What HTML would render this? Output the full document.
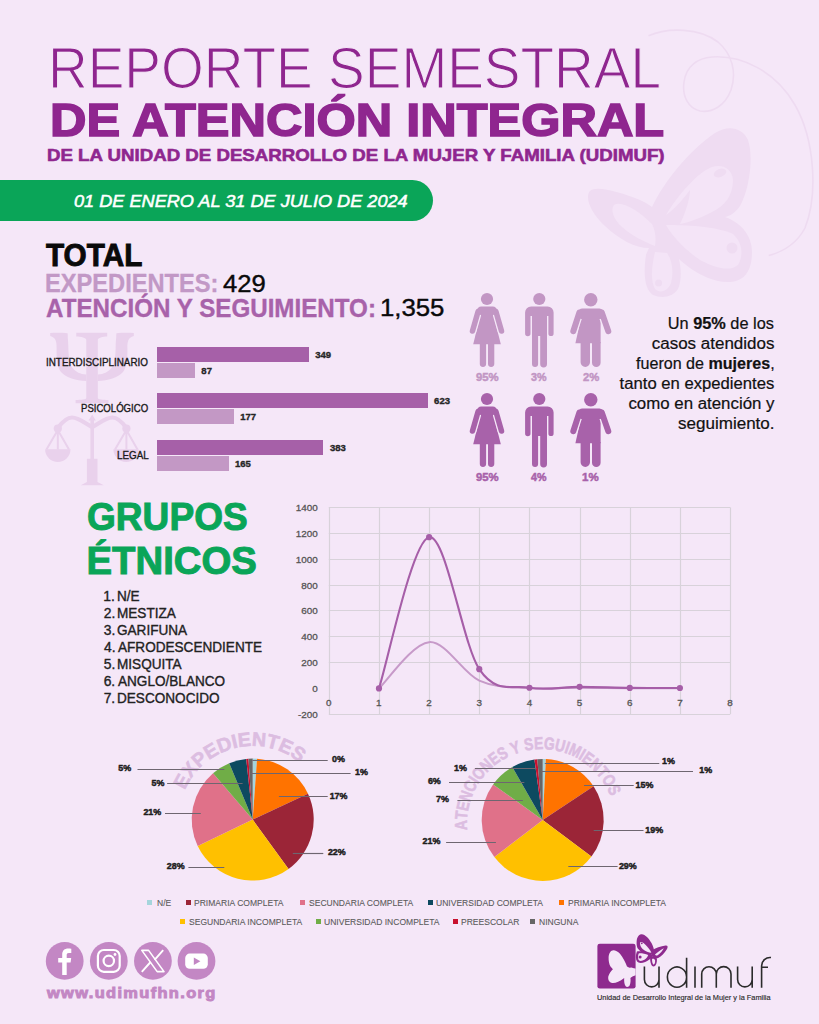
<!DOCTYPE html>
<html><head><meta charset="utf-8"><style>
html,body{margin:0;padding:0}
body{width:819px;height:1024px;position:relative;overflow:hidden;background:#f5e7f8;font-family:"Liberation Sans",sans-serif}
.t{position:absolute;white-space:nowrap}
svg{position:absolute;left:0;top:0}
</style></head><body>
<svg width="819" height="1024" viewBox="0 0 819 1024">
<g fill="#e9d1ec">
<path d="M76.3,332.8 H107.2 L107.2,336.4 C103,336.6 97.8,337.5 97.8,340 V398 C97.8,399.6 103,399.8 108.5,400 V403.3 H75.6 V400 C81,399.8 86.3,399.6 86.3,398 V340 C86.3,337.5 81,336.6 76.3,336.4 Z"/>
<path d="M50.2,333 C56,332.8 62,332.8 67.6,333.2 L67.8,336 C67.6,338 68.2,340 68.3,346 C68.5,357 69.5,365 73,368.5 C76,372 80,374 86.3,374.6 V381 C76,380.5 66,378 61,372 C57,367 56.4,358 56.6,348 C56.7,342 56,337.5 50.2,336 Z"/>
<path d="M133.8,333 C128,332.8 122,332.8 116.4,333.2 L116.2,336 C116.4,338 115.8,340 115.7,346 C115.5,357 114.5,365 111,368.5 C108,372 104,374 97.8,374.6 V381 C108,380.5 118,378 123,372 C127,367 127.6,358 127.4,348 C127.3,342 128,337.5 133.8,336 Z"/>
<path d="M92.2,414.5 L95.8,420.5 H94 V458.7 H97.5 V482 L103.8,485.3 H80.8 L86.9,482 V458.7 H90.4 V420.5 H88.6 Z"/>
<path d="M45.1,449.2 A12.7,12.7 0 0 0 70.5,449.2 Z"/>
<path d="M113.4,449.2 A12.7,12.7 0 0 0 138.8,449.2 Z"/>
<circle cx="57.8" cy="428.6" r="4.1"/>
<circle cx="126.4" cy="428.6" r="4.1"/>
</g>
<g fill="none" stroke="#e9d1ec">
<path d="M57.8,428 C63,421 67,417.5 72,417.5 C79,417.5 86,424 92.2,427 C98.4,424 105.4,417.5 112.4,417.5 C117.4,417.5 121.4,421 126.4,428" stroke-width="4.2"/>
<path d="M57.8,430 L46.5,449.5 M57.8,430 L69,449.5 M57.8,430 V449.5 M126.4,430 L115,449.5 M126.4,430 L137.5,449.5 M126.4,430 V449.5" stroke-width="2"/>
</g>
<g fill="none" stroke="#eedbf1" stroke-width="1.6">
<path d="M648.5,35.8 C668,27 700,28 718,42 C732,54 737,72 731,90 C725,106 712,113 700,111 C688,108 682,96 684,82 C686,66 698,58 712,57 C740,55 775,70 795,105 C815,140 818,195 805,228 C796,245 782,252 768.7,255.6"/>
</g>
<g fill="#efdcf2">
<path d="M652,207 C665,180 690,150 715,133 C728,125 742,127 748,140 C754,158 749,190 740,206 C735,213 730,216 725,217 C740,222 752,235 752,252 C752,270 745,281 730,282 C715,283 700,275 690,268 C686,265 682,262 679,259 C681,268 682,280 678,289 C673,297 662,299 653,295 C645,290 643,275 646,255 C647,252 648,250 649,248 C635,248 620,240 605,226 C592,214 584,198 590,191 C596,185 620,192 640,200 C645,202 649,205 652,207 Z"/>
</g>
<g fill="#f4e4f7">
<path d="M666,215 C678,195 698,172 712,167 C722,164 732,168 733,180 C733,195 725,206 712,212 C700,218 690,222 680,224 C686,212 690,198 690,190 C684,198 676,208 666,215 Z"/>
<path d="M614,205 C622,200 640,212 652,224 C656,232 656,240 655,246 C645,242 632,236 622,227 C614,220 610,210 614,205 Z"/>
<path d="M666,225 C685,225 715,226 733,234 C742,242 744,255 738,265 C730,272 715,268 700,260 C685,250 672,236 666,225 Z"/>
<path d="M655,252 C652,265 650,280 655,289 C660,294 668,291 671,283 C674,272 672,260 667,253 Z"/>
</g>
<g fill="#efdcf2"><ellipse cx="720" cy="173" rx="6.5" ry="4" transform="rotate(-20 720 173)"/><circle cx="732" cy="248" r="5.5"/><circle cx="658.6" cy="283" r="3.5"/></g>
</svg>
<div class="t" style="left:47.89px;top:39.79px;font-size:57.414px;line-height:57.414px;font-weight:400;font-style:normal;color:#8f268f;transform:scaleX(0.9577);transform-origin:0 0;-webkit-text-stroke:1.2px #f5e7f8;">REPORTE SEMESTRAL</div>
<div class="t" style="left:49.62px;top:97.00px;font-size:46.658px;line-height:46.658px;font-weight:700;font-style:normal;color:#8f268f;transform:scaleX(1.0824);transform-origin:0 0;-webkit-text-stroke:1.6px #8f268f;">DE ATENCIÓN INTEGRAL</div>
<div class="t" style="left:46.85px;top:146.78px;font-size:17.151px;line-height:17.151px;font-weight:700;font-style:normal;color:#8f268f;transform:scaleX(1.0893);transform-origin:0 0;-webkit-text-stroke:0.6px #8f268f;">DE LA UNIDAD DE DESARROLLO DE LA MUJER Y FAMILIA (UDIMUF)</div>
<div style="position:absolute;left:-30px;top:180px;width:463px;height:41px;background:#0aa558;border-radius:20.5px"></div>
<div class="t" style="left:74.46px;top:192.97px;font-size:16.279px;line-height:16.279px;font-weight:400;font-style:italic;color:#fff;transform:scaleX(1.1150);transform-origin:0 0;-webkit-text-stroke:0.5px #fff;">01 DE ENERO AL 31 DE JULIO DE 2024</div>
<div class="t" style="left:45.52px;top:239.58px;font-size:30.669px;line-height:30.669px;font-weight:700;font-style:normal;color:#0a0a0a;transform:scaleX(0.9695);transform-origin:0 0;-webkit-text-stroke:0.9px #0a0a0a;">TOTAL</div>
<div class="t" style="left:44.59px;top:270.43px;font-size:26.091px;line-height:26.091px;font-weight:700;font-style:normal;color:#c298c6;transform:scaleX(0.9065);transform-origin:0 0;-webkit-text-stroke:0.35px #c298c6;">EXPEDIENTES:</div>
<div class="t" style="left:223.21px;top:271.78px;font-size:24.710px;line-height:24.710px;font-weight:400;font-style:normal;color:#0a0a0a;transform:scaleX(1.0385);transform-origin:0 0;-webkit-text-stroke:0.4px #0a0a0a;">429</div>
<div class="t" style="left:45.57px;top:296.40px;font-size:25.655px;line-height:25.655px;font-weight:700;font-style:normal;color:#a862aa;transform:scaleX(0.9428);transform-origin:0 0;-webkit-text-stroke:0.35px #a862aa;">ATENCIÓN Y SEGUIMIENTO:</div>
<div class="t" style="left:380.24px;top:296.28px;font-size:24.710px;line-height:24.710px;font-weight:400;font-style:normal;color:#0a0a0a;transform:scaleX(1.0425);transform-origin:0 0;-webkit-text-stroke:0.4px #0a0a0a;">1,355</div>
<div style="position:absolute;left:157.2px;top:346.7px;width:151.6px;height:15px;background:#a660a8"></div>
<div style="position:absolute;left:157.2px;top:362.6px;width:37.8px;height:15px;background:#c398c5"></div>
<div class="t" style="left:315.23px;top:349.76px;font-size:9.521px;line-height:9.521px;font-weight:700;font-style:normal;color:#262626;-webkit-text-stroke:0.35px #262626;">349</div>
<div class="t" style="left:201.36px;top:365.66px;font-size:9.521px;line-height:9.521px;font-weight:700;font-style:normal;color:#262626;-webkit-text-stroke:0.35px #262626;">87</div>
<div class="t" style="left:46.26px;top:356.86px;font-size:10.829px;line-height:10.829px;font-weight:400;font-style:normal;color:#1a1a1a;transform:scaleX(0.9127);transform-origin:0 0;-webkit-text-stroke:0.35px #1a1a1a;">INTERDISCIPLINARIO</div>
<div style="position:absolute;left:157.2px;top:393.3px;width:270.6px;height:15px;background:#a660a8"></div>
<div style="position:absolute;left:157.2px;top:409.2px;width:76.9px;height:15px;background:#c398c5"></div>
<div class="t" style="left:434.10px;top:396.36px;font-size:9.521px;line-height:9.521px;font-weight:700;font-style:normal;color:#262626;-webkit-text-stroke:0.35px #262626;">623</div>
<div class="t" style="left:240.15px;top:412.26px;font-size:9.521px;line-height:9.521px;font-weight:700;font-style:normal;color:#262626;-webkit-text-stroke:0.35px #262626;">177</div>
<div class="t" style="left:81.19px;top:403.46px;font-size:10.829px;line-height:10.829px;font-weight:400;font-style:normal;color:#1a1a1a;transform:scaleX(0.8864);transform-origin:0 0;-webkit-text-stroke:0.35px #1a1a1a;">PSICOLÓGICO</div>
<div style="position:absolute;left:157.2px;top:439.8px;width:166.3px;height:15px;background:#a660a8"></div>
<div style="position:absolute;left:157.2px;top:455.7px;width:71.7px;height:15px;background:#c398c5"></div>
<div class="t" style="left:329.99px;top:442.86px;font-size:9.521px;line-height:9.521px;font-weight:700;font-style:normal;color:#262626;-webkit-text-stroke:0.35px #262626;">383</div>
<div class="t" style="left:234.93px;top:458.76px;font-size:9.521px;line-height:9.521px;font-weight:700;font-style:normal;color:#262626;-webkit-text-stroke:0.35px #262626;">165</div>
<div class="t" style="left:116.57px;top:449.96px;font-size:10.829px;line-height:10.829px;font-weight:400;font-style:normal;color:#1a1a1a;transform:scaleX(0.9075);transform-origin:0 0;-webkit-text-stroke:0.35px #1a1a1a;">LEGAL</div>
<svg width="819" height="1024" viewBox="0 0 819 1024"><g transform="translate(0,-100)" fill="#c296c4" stroke="none"><path d="M481.6,410 L492.4,410 L500.8,444.2 L473.2,444.2 Z"/><path d="M478.1,411.5 L472.5,431 M495.9,411.5 L501.5,431" stroke="#f5e7f8" stroke-width="8.1" stroke-linecap="round" fill="none"/><path d="M478.1,411.5 L472.5,431 M495.9,411.5 L501.5,431" stroke="#c296c4" stroke-width="5.5" stroke-linecap="round" fill="none"/><rect x="477" y="406.4" width="20" height="8.5" rx="4.2"/><rect x="481" y="408" width="12" height="10"/><circle cx="487" cy="399" r="6.1"/><path d="M479.8,443 h6.3 v20.8 a3.15,3.15 0 0 1 -6.3,0 Z M488,443 h6.3 v20.8 a3.15,3.15 0 0 1 -6.3,0 Z"/></g><g transform="translate(0.0,-100)" fill="#c296c4" stroke="none"><circle cx="539.3" cy="399" r="6.1"/><path d="M525.1,436 V412.5 A6,6 0 0 1 531.1,406.5 H547.6 A6,6 0 0 1 553.6,412.5 V433.5 A2.6,2.6 0 0 1 548.4,433.5 V416 H547 V464 A3.4,3.4 0 0 1 540.2,464 V436 H538.1 V464 A3.05,3.05 0 0 1 532,464 V416 H530.5 V433.5 A2.7,2.7 0 0 1 525.1,433.5 Z"/></g><g transform="translate(0,-100)" fill="#c296c4" stroke="none"><path d="M582.8,410 L600.6,410 L600.6,443.3 L575.4,443.3 Z"/><path d="M579.4,412.5 L573.3,431.2 M601.8,412.5 L608.3,431.2" stroke="#f5e7f8" stroke-width="8.6" stroke-linecap="round" fill="none"/><path d="M579.4,412.5 L573.3,431.2 M601.8,412.5 L608.3,431.2" stroke="#c296c4" stroke-width="6" stroke-linecap="round" fill="none"/><path d="M577.2,416.5 L578.5,412 A4,4 0 0 1 582.3,408.4 H599.5 A4,4 0 0 1 603.2,411 L604.6,414.8 L600.6,419 H581 Z"/><circle cx="590.8" cy="399.8" r="6.7"/><path d="M580.6,442 h9.4 v20.3 a4.7,4.7 0 0 1 -9.4,0 Z M592,442 h8.6 v20.7 a4.3,4.3 0 0 1 -8.6,0 Z"/></g><g transform="translate(0,0)" fill="#a862aa" stroke="none"><path d="M481.6,410 L492.4,410 L500.8,444.2 L473.2,444.2 Z"/><path d="M478.1,411.5 L472.5,431 M495.9,411.5 L501.5,431" stroke="#f5e7f8" stroke-width="8.1" stroke-linecap="round" fill="none"/><path d="M478.1,411.5 L472.5,431 M495.9,411.5 L501.5,431" stroke="#a862aa" stroke-width="5.5" stroke-linecap="round" fill="none"/><rect x="477" y="406.4" width="20" height="8.5" rx="4.2"/><rect x="481" y="408" width="12" height="10"/><circle cx="487" cy="399" r="6.1"/><path d="M479.8,443 h6.3 v20.8 a3.15,3.15 0 0 1 -6.3,0 Z M488,443 h6.3 v20.8 a3.15,3.15 0 0 1 -6.3,0 Z"/></g><g transform="translate(0.0,0)" fill="#a862aa" stroke="none"><circle cx="539.3" cy="399" r="6.1"/><path d="M525.1,436 V412.5 A6,6 0 0 1 531.1,406.5 H547.6 A6,6 0 0 1 553.6,412.5 V433.5 A2.6,2.6 0 0 1 548.4,433.5 V416 H547 V464 A3.4,3.4 0 0 1 540.2,464 V436 H538.1 V464 A3.05,3.05 0 0 1 532,464 V416 H530.5 V433.5 A2.7,2.7 0 0 1 525.1,433.5 Z"/></g><g transform="translate(0,0)" fill="#a862aa" stroke="none"><path d="M582.8,410 L600.6,410 L600.6,443.3 L575.4,443.3 Z"/><path d="M579.4,412.5 L573.3,431.2 M601.8,412.5 L608.3,431.2" stroke="#f5e7f8" stroke-width="8.6" stroke-linecap="round" fill="none"/><path d="M579.4,412.5 L573.3,431.2 M601.8,412.5 L608.3,431.2" stroke="#a862aa" stroke-width="6" stroke-linecap="round" fill="none"/><path d="M577.2,416.5 L578.5,412 A4,4 0 0 1 582.3,408.4 H599.5 A4,4 0 0 1 603.2,411 L604.6,414.8 L600.6,419 H581 Z"/><circle cx="590.8" cy="399.8" r="6.7"/><path d="M580.6,442 h9.4 v20.3 a4.7,4.7 0 0 1 -9.4,0 Z M592,442 h8.6 v20.7 a4.3,4.3 0 0 1 -8.6,0 Z"/></g></svg>
<div class="t" style="left:475.76px;top:370.58px;font-size:11.773px;line-height:11.773px;font-weight:700;font-style:normal;color:#c296c4;transform:scaleX(0.9623);transform-origin:0 0;-webkit-text-stroke:0.5px #c296c4;">95%</div>
<div class="t" style="left:475.76px;top:470.58px;font-size:11.773px;line-height:11.773px;font-weight:700;font-style:normal;color:#a862aa;transform:scaleX(0.9623);transform-origin:0 0;-webkit-text-stroke:0.5px #a862aa;">95%</div>
<div class="t" style="left:531.40px;top:370.58px;font-size:11.773px;line-height:11.773px;font-weight:700;font-style:normal;color:#c296c4;transform:scaleX(0.9120);transform-origin:0 0;-webkit-text-stroke:0.5px #c296c4;">3%</div>
<div class="t" style="left:531.49px;top:470.58px;font-size:11.773px;line-height:11.773px;font-weight:700;font-style:normal;color:#a862aa;transform:scaleX(0.9070);transform-origin:0 0;-webkit-text-stroke:0.5px #a862aa;">4%</div>
<div class="t" style="left:582.76px;top:370.58px;font-size:11.773px;line-height:11.773px;font-weight:700;font-style:normal;color:#c296c4;transform:scaleX(0.9565);transform-origin:0 0;-webkit-text-stroke:0.5px #c296c4;">2%</div>
<div class="t" style="left:582.43px;top:470.58px;font-size:11.773px;line-height:11.773px;font-weight:700;font-style:normal;color:#a862aa;transform:scaleX(0.9765);transform-origin:0 0;-webkit-text-stroke:0.5px #a862aa;">1%</div>
<div class="t" style="right:44.90px;top:315.96px;font-size:15.989px;line-height:15.989px;color:#111;text-align:right;transform:scaleX(1.0214);transform-origin:100% 0;-webkit-text-stroke:0.2px #111">Un <b>95%</b> de los</div>
<div class="t" style="right:44.90px;top:336.06px;font-size:15.989px;line-height:15.989px;color:#111;text-align:right;transform:scaleX(1.0629);transform-origin:100% 0;-webkit-text-stroke:0.2px #111">casos atendidos</div>
<div class="t" style="right:44.90px;top:356.16px;font-size:15.989px;line-height:15.989px;color:#111;text-align:right;transform:scaleX(1.0068);transform-origin:100% 0;-webkit-text-stroke:0.2px #111">fueron de <b>mujeres</b>,</div>
<div class="t" style="right:44.90px;top:376.26px;font-size:15.989px;line-height:15.989px;color:#111;text-align:right;transform:scaleX(1.0432);transform-origin:100% 0;-webkit-text-stroke:0.2px #111">tanto en expedientes</div>
<div class="t" style="right:44.90px;top:396.36px;font-size:15.989px;line-height:15.989px;color:#111;text-align:right;transform:scaleX(1.0546);transform-origin:100% 0;-webkit-text-stroke:0.2px #111">como en atención y</div>
<div class="t" style="right:44.90px;top:416.46px;font-size:15.989px;line-height:15.989px;color:#111;text-align:right;transform:scaleX(1.0660);transform-origin:100% 0;-webkit-text-stroke:0.2px #111">seguimiento.</div>
<div class="t" style="left:87.48px;top:498.21px;font-size:38.373px;line-height:38.373px;font-weight:700;font-style:normal;color:#0aa558;transform:scaleX(0.9667);transform-origin:0 0;-webkit-text-stroke:1.0px #0aa558;">GRUPOS</div>
<div class="t" style="left:86.44px;top:542.21px;font-size:38.373px;line-height:38.373px;font-weight:700;font-style:normal;color:#0aa558;-webkit-text-stroke:1.0px #0aa558;">ÉTNICOS</div>
<div class="t" style="left:103.32px;top:590.47px;font-size:13.881px;line-height:13.881px;font-weight:400;font-style:normal;color:#222;-webkit-text-stroke:0.35px #222;">1.</div>
<div class="t" style="left:116.66px;top:590.47px;font-size:13.881px;line-height:13.881px;font-weight:400;font-style:normal;color:#222;transform:scaleX(0.9784);transform-origin:0 0;-webkit-text-stroke:0.35px #222;">N/E</div>
<div class="t" style="left:103.68px;top:607.47px;font-size:13.881px;line-height:13.881px;font-weight:400;font-style:normal;color:#222;-webkit-text-stroke:0.35px #222;">2.</div>
<div class="t" style="left:116.66px;top:607.47px;font-size:13.881px;line-height:13.881px;font-weight:400;font-style:normal;color:#222;transform:scaleX(0.9784);transform-origin:0 0;-webkit-text-stroke:0.35px #222;">MESTIZA</div>
<div class="t" style="left:103.85px;top:624.47px;font-size:13.881px;line-height:13.881px;font-weight:400;font-style:normal;color:#222;-webkit-text-stroke:0.35px #222;">3.</div>
<div class="t" style="left:117.09px;top:624.47px;font-size:13.881px;line-height:13.881px;font-weight:400;font-style:normal;color:#222;transform:scaleX(0.9784);transform-origin:0 0;-webkit-text-stroke:0.35px #222;">GARIFUNA</div>
<div class="t" style="left:104.06px;top:641.47px;font-size:13.881px;line-height:13.881px;font-weight:400;font-style:normal;color:#222;-webkit-text-stroke:0.35px #222;">4.</div>
<div class="t" style="left:117.75px;top:641.47px;font-size:13.881px;line-height:13.881px;font-weight:400;font-style:normal;color:#222;transform:scaleX(0.9784);transform-origin:0 0;-webkit-text-stroke:0.35px #222;">AFRODESCENDIENTE</div>
<div class="t" style="left:103.82px;top:658.47px;font-size:13.881px;line-height:13.881px;font-weight:400;font-style:normal;color:#222;-webkit-text-stroke:0.35px #222;">5.</div>
<div class="t" style="left:116.66px;top:658.47px;font-size:13.881px;line-height:13.881px;font-weight:400;font-style:normal;color:#222;transform:scaleX(0.9784);transform-origin:0 0;-webkit-text-stroke:0.35px #222;">MISQUITA</div>
<div class="t" style="left:103.67px;top:675.47px;font-size:13.881px;line-height:13.881px;font-weight:400;font-style:normal;color:#222;-webkit-text-stroke:0.35px #222;">6.</div>
<div class="t" style="left:117.75px;top:675.47px;font-size:13.881px;line-height:13.881px;font-weight:400;font-style:normal;color:#222;transform:scaleX(0.9784);transform-origin:0 0;-webkit-text-stroke:0.35px #222;">ANGLO/BLANCO</div>
<div class="t" style="left:103.66px;top:692.47px;font-size:13.881px;line-height:13.881px;font-weight:400;font-style:normal;color:#222;-webkit-text-stroke:0.35px #222;">7.</div>
<div class="t" style="left:116.66px;top:692.47px;font-size:13.881px;line-height:13.881px;font-weight:400;font-style:normal;color:#222;transform:scaleX(0.9784);transform-origin:0 0;-webkit-text-stroke:0.35px #222;">DESCONOCIDO</div>
<svg width="819" height="1024" viewBox="0 0 819 1024"><g stroke="#d8d2da" stroke-width="1.2" fill="none"><path d="M328.8,714.5 H730.1"/><path d="M328.8,662.5 H730.1"/><path d="M328.8,636.5 H730.1"/><path d="M328.8,610.5 H730.1"/><path d="M328.8,585.5 H730.1"/><path d="M328.8,559.5 H730.1"/><path d="M328.8,533.5 H730.1"/><path d="M328.8,507.5 H730.1"/><path d="M329.5,507.4 V714.2"/><path d="M379.5,507.4 V714.2"/><path d="M429.5,507.4 V714.2"/><path d="M479.5,507.4 V714.2"/><path d="M529.5,507.4 V714.2"/><path d="M580.5,507.4 V714.2"/><path d="M630.5,507.4 V714.2"/><path d="M680.5,507.4 V714.2"/><path d="M730.5,507.4 V714.2"/></g><path d="M378.96,688.40 C387.32,680.69 412.40,643.42 429.12,642.13 C445.84,640.84 462.56,673.02 479.28,680.64 C496.00,688.27 512.72,686.70 529.44,687.88 C546.16,689.07 562.88,687.69 579.60,687.75 C596.32,687.82 613.04,688.18 629.76,688.27 C646.48,688.36 671.56,688.27 679.92,688.27" stroke="#c79ac9" stroke-width="2.0" fill="none"/><path d="M378.96,688.40 C387.32,663.20 412.40,540.39 429.12,537.18 C445.84,533.97 462.56,644.05 479.28,669.14 C496.00,694.24 512.72,684.80 529.44,687.75 C546.16,690.70 562.88,686.83 579.60,686.85 C596.32,686.87 613.04,687.69 629.76,687.88 C646.48,688.08 671.56,687.99 679.92,688.01" stroke="#a65ea8" stroke-width="2.1" fill="none"/><circle cx="378.96" cy="688.40" r="3.1" fill="#a65ea8"/><circle cx="429.12" cy="537.18" r="3.1" fill="#a65ea8"/><circle cx="479.28" cy="669.14" r="3.1" fill="#a65ea8"/><circle cx="529.44" cy="687.75" r="3.1" fill="#a65ea8"/><circle cx="579.60" cy="686.85" r="3.1" fill="#a65ea8"/><circle cx="629.76" cy="687.88" r="3.1" fill="#a65ea8"/><circle cx="679.92" cy="688.01" r="3.1" fill="#a65ea8"/></svg>
<div class="t" style="left:298.04px;top:709.83px;font-size:9.884px;line-height:9.884px;font-weight:400;font-style:normal;color:#555;-webkit-text-stroke:0.3px #555;">-200</div>
<div class="t" style="left:312.34px;top:683.98px;font-size:9.884px;line-height:9.884px;font-weight:400;font-style:normal;color:#555;-webkit-text-stroke:0.3px #555;">0</div>
<div class="t" style="left:301.33px;top:658.13px;font-size:9.884px;line-height:9.884px;font-weight:400;font-style:normal;color:#555;-webkit-text-stroke:0.3px #555;">200</div>
<div class="t" style="left:301.33px;top:632.28px;font-size:9.884px;line-height:9.884px;font-weight:400;font-style:normal;color:#555;-webkit-text-stroke:0.3px #555;">400</div>
<div class="t" style="left:301.33px;top:606.43px;font-size:9.884px;line-height:9.884px;font-weight:400;font-style:normal;color:#555;-webkit-text-stroke:0.3px #555;">600</div>
<div class="t" style="left:301.33px;top:580.58px;font-size:9.884px;line-height:9.884px;font-weight:400;font-style:normal;color:#555;-webkit-text-stroke:0.3px #555;">800</div>
<div class="t" style="left:295.83px;top:554.73px;font-size:9.884px;line-height:9.884px;font-weight:400;font-style:normal;color:#555;-webkit-text-stroke:0.3px #555;">1000</div>
<div class="t" style="left:295.83px;top:528.88px;font-size:9.884px;line-height:9.884px;font-weight:400;font-style:normal;color:#555;-webkit-text-stroke:0.3px #555;">1200</div>
<div class="t" style="left:295.83px;top:503.03px;font-size:9.884px;line-height:9.884px;font-weight:400;font-style:normal;color:#555;-webkit-text-stroke:0.3px #555;">1400</div>
<div class="t" style="left:326.05px;top:697.78px;font-size:9.884px;line-height:9.884px;font-weight:400;font-style:normal;color:#555;-webkit-text-stroke:0.3px #555;">0</div>
<div class="t" style="left:376.07px;top:697.78px;font-size:9.884px;line-height:9.884px;font-weight:400;font-style:normal;color:#555;-webkit-text-stroke:0.3px #555;">1</div>
<div class="t" style="left:426.37px;top:697.78px;font-size:9.884px;line-height:9.884px;font-weight:400;font-style:normal;color:#555;-webkit-text-stroke:0.3px #555;">2</div>
<div class="t" style="left:476.56px;top:697.78px;font-size:9.884px;line-height:9.884px;font-weight:400;font-style:normal;color:#555;-webkit-text-stroke:0.3px #555;">3</div>
<div class="t" style="left:526.72px;top:697.78px;font-size:9.884px;line-height:9.884px;font-weight:400;font-style:normal;color:#555;-webkit-text-stroke:0.3px #555;">4</div>
<div class="t" style="left:576.86px;top:697.78px;font-size:9.884px;line-height:9.884px;font-weight:400;font-style:normal;color:#555;-webkit-text-stroke:0.3px #555;">5</div>
<div class="t" style="left:626.98px;top:697.78px;font-size:9.884px;line-height:9.884px;font-weight:400;font-style:normal;color:#555;-webkit-text-stroke:0.3px #555;">6</div>
<div class="t" style="left:677.16px;top:697.78px;font-size:9.884px;line-height:9.884px;font-weight:400;font-style:normal;color:#555;-webkit-text-stroke:0.3px #555;">7</div>
<div class="t" style="left:727.33px;top:697.78px;font-size:9.884px;line-height:9.884px;font-weight:400;font-style:normal;color:#555;-webkit-text-stroke:0.3px #555;">8</div>
<svg width="819" height="1024" viewBox="0 0 819 1024"><g fill="#dcbde1" stroke="#dcbde1" stroke-width="0.6" font-family="Liberation Sans" font-weight="700" font-size="19.48" text-anchor="middle"><text transform="translate(187.57,784.59) rotate(-61.50) scale(1.005,1)">E</text><text transform="translate(194.77,773.73) rotate(-51.39) scale(1.005,1)">X</text><text transform="translate(203.77,764.29) rotate(-41.28) scale(1.005,1)">P</text><text transform="translate(214.29,756.59) rotate(-31.18) scale(1.005,1)">E</text><text transform="translate(226.50,750.66) rotate(-20.65) scale(1.005,1)">D</text><text transform="translate(235.86,747.82) rotate(-13.07) scale(1.005,1)">I</text><text transform="translate(244.97,746.29) rotate(-5.92) scale(1.005,1)">E</text><text transform="translate(258.55,746.14) rotate(4.61) scale(1.005,1)">N</text><text transform="translate(271.39,748.33) rotate(14.71) scale(1.005,1)">T</text><text transform="translate(283.16,752.51) rotate(24.39) scale(1.005,1)">E</text><text transform="translate(294.51,758.91) rotate(34.50) scale(1.005,1)">S</text></g><g fill="#dcbde1" stroke="#dcbde1" stroke-width="0.6" font-family="Liberation Sans" font-weight="700" font-size="17.15" text-anchor="middle"><text transform="translate(466.92,825.06) rotate(-91.20) scale(0.802,1)">A</text><text transform="translate(467.29,815.90) rotate(-84.13) scale(0.802,1)">T</text><text transform="translate(468.70,807.22) rotate(-77.36) scale(0.802,1)">E</text><text transform="translate(471.39,798.05) rotate(-70.00) scale(0.802,1)">N</text><text transform="translate(475.40,788.96) rotate(-62.34) scale(0.802,1)">C</text><text transform="translate(478.88,783.02) rotate(-57.04) scale(0.802,1)">I</text><text transform="translate(483.12,777.13) rotate(-51.44) scale(0.802,1)">O</text><text transform="translate(490.10,769.52) rotate(-43.49) scale(0.802,1)">N</text><text transform="translate(497.44,763.41) rotate(-36.13) scale(0.802,1)">E</text><text transform="translate(505.17,758.46) rotate(-29.05) scale(0.802,1)">S</text><text transform="translate(517.03,753.17) rotate(-19.04) scale(0.802,1)">Y</text><text transform="translate(529.64,750.02) rotate(-9.02) scale(0.802,1)">S</text><text transform="translate(538.77,749.14) rotate(-1.95) scale(0.802,1)">E</text><text transform="translate(548.70,749.47) rotate(5.71) scale(0.802,1)">G</text><text transform="translate(558.87,751.21) rotate(13.66) scale(0.802,1)">U</text><text transform="translate(565.48,753.14) rotate(18.96) scale(0.802,1)">I</text><text transform="translate(572.57,755.99) rotate(24.85) scale(0.802,1)">M</text><text transform="translate(579.33,759.55) rotate(30.74) scale(0.802,1)">I</text><text transform="translate(584.77,763.12) rotate(35.75) scale(0.802,1)">E</text><text transform="translate(592.15,769.19) rotate(43.11) scale(0.802,1)">N</text><text transform="translate(598.44,775.86) rotate(50.18) scale(0.802,1)">T</text><text transform="translate(604.08,783.57) rotate(57.54) scale(0.802,1)">O</text><text transform="translate(608.84,792.29) rotate(65.20) scale(0.802,1)">S</text></g></svg>
<svg width="819" height="1024" viewBox="0 0 819 1024"><defs><path id="arc1" d="M 253.3,894.6 A 75,75 0 1 1 253.31,894.6"/><path id="arc2" d="M 542.7,894.9 A 75,75 0 1 1 542.71,894.9"/></defs><path d="M252.7,819.6 L252.70,758.60 A61,61 0 0 1 257.06,758.76 Z" fill="#a5d5dc"/><path d="M252.7,819.6 L257.06,758.76 A61,61 0 0 1 307.98,793.82 Z" fill="#ff7300"/><path d="M252.7,819.6 L307.98,793.82 A61,61 0 0 1 288.55,868.95 Z" fill="#9b2537"/><path d="M252.7,819.6 L288.55,868.95 A61,61 0 0 1 197.69,845.96 Z" fill="#ffc000"/><path d="M252.7,819.6 L197.69,845.96 A61,61 0 0 1 213.08,773.22 Z" fill="#e07189"/><path d="M252.7,819.6 L213.08,773.22 A61,61 0 0 1 229.26,763.28 Z" fill="#70ad47"/><path d="M252.7,819.6 L229.26,763.28 A61,61 0 0 1 246.22,758.95 Z" fill="#0d4a60"/><path d="M252.7,819.6 L246.22,758.95 A61,61 0 0 1 248.44,758.75 Z" fill="#c8102e"/><path d="M252.7,819.6 L248.44,758.75 A61,61 0 0 1 252.70,758.60 Z" fill="#666666"/><path d="M542.7,819.9 L542.70,758.90 A61,61 0 0 1 545.89,758.98 Z" fill="#a5d5dc"/><path d="M542.7,819.9 L545.89,758.98 A61,61 0 0 1 593.57,786.23 Z" fill="#ff7300"/><path d="M542.7,819.9 L593.57,786.23 A61,61 0 0 1 591.42,856.61 Z" fill="#9b2537"/><path d="M542.7,819.9 L591.42,856.61 A61,61 0 0 1 494.37,857.12 Z" fill="#ffc000"/><path d="M542.7,819.9 L494.37,857.12 A61,61 0 0 1 493.10,784.39 Z" fill="#e07189"/><path d="M542.7,819.9 L493.10,784.39 A61,61 0 0 1 512.29,767.02 Z" fill="#70ad47"/><path d="M542.7,819.9 L512.29,767.02 A61,61 0 0 1 534.42,759.46 Z" fill="#0d4a60"/><path d="M542.7,819.9 L534.42,759.46 A61,61 0 0 1 537.28,759.14 Z" fill="#c8102e"/><path d="M542.7,819.9 L537.28,759.14 A61,61 0 0 1 542.70,758.90 Z" fill="#666666"/></svg>
<svg width="819" height="1024" viewBox="0 0 819 1024"><g stroke="#6e6670" stroke-width="1.15" fill="none"><path d="M252.4,760.5 H327.7"/><path d="M250.4,773.5 H350.6"/><path d="M278.9,796.5 H327.7"/><path d="M292.8,853.5 H323.3"/><path d="M188.4,867.5 H224.3"/><path d="M165.0,813.5 H200.8"/><path d="M137.5,769.5 H224.3"/><path d="M167.1,783.5 H242.6"/><path d="M544.8,763.5 H659.3"/><path d="M541.0,771.5 H693.0"/><path d="M584.0,785.5 H633.7"/><path d="M593.7,830.5 H643.5"/><path d="M568.3,866.5 H617.6"/><path d="M446.1,842.5 H495.9"/><path d="M457.4,800.5 H522.9"/><path d="M449.0,782.5 H524.3"/><path d="M474.9,768.5 H536.5"/></g></svg>
<div class="t" style="left:332.07px;top:754.51px;font-size:8.939px;line-height:8.939px;font-weight:700;font-style:normal;color:#1e1e1e;-webkit-text-stroke:0.45px #1e1e1e;">0%</div>
<div class="t" style="left:354.96px;top:768.11px;font-size:8.939px;line-height:8.939px;font-weight:700;font-style:normal;color:#1e1e1e;-webkit-text-stroke:0.45px #1e1e1e;">1%</div>
<div class="t" style="left:329.66px;top:791.71px;font-size:8.939px;line-height:8.939px;font-weight:700;font-style:normal;color:#1e1e1e;-webkit-text-stroke:0.45px #1e1e1e;">17%</div>
<div class="t" style="left:327.92px;top:848.41px;font-size:8.939px;line-height:8.939px;font-weight:700;font-style:normal;color:#1e1e1e;-webkit-text-stroke:0.45px #1e1e1e;">22%</div>
<div class="t" style="left:166.82px;top:862.41px;font-size:8.939px;line-height:8.939px;font-weight:700;font-style:normal;color:#1e1e1e;-webkit-text-stroke:0.45px #1e1e1e;">28%</div>
<div class="t" style="left:143.42px;top:808.11px;font-size:8.939px;line-height:8.939px;font-weight:700;font-style:normal;color:#1e1e1e;-webkit-text-stroke:0.45px #1e1e1e;">21%</div>
<div class="t" style="left:118.29px;top:764.21px;font-size:8.939px;line-height:8.939px;font-weight:700;font-style:normal;color:#1e1e1e;-webkit-text-stroke:0.45px #1e1e1e;">5%</div>
<div class="t" style="left:151.59px;top:778.81px;font-size:8.939px;line-height:8.939px;font-weight:700;font-style:normal;color:#1e1e1e;-webkit-text-stroke:0.45px #1e1e1e;">5%</div>
<div class="t" style="left:661.96px;top:756.91px;font-size:8.939px;line-height:8.939px;font-weight:700;font-style:normal;color:#1e1e1e;-webkit-text-stroke:0.45px #1e1e1e;">1%</div>
<div class="t" style="left:699.26px;top:766.41px;font-size:8.939px;line-height:8.939px;font-weight:700;font-style:normal;color:#1e1e1e;-webkit-text-stroke:0.45px #1e1e1e;">1%</div>
<div class="t" style="left:635.56px;top:781.01px;font-size:8.939px;line-height:8.939px;font-weight:700;font-style:normal;color:#1e1e1e;-webkit-text-stroke:0.45px #1e1e1e;">15%</div>
<div class="t" style="left:645.36px;top:825.71px;font-size:8.939px;line-height:8.939px;font-weight:700;font-style:normal;color:#1e1e1e;-webkit-text-stroke:0.45px #1e1e1e;">19%</div>
<div class="t" style="left:618.92px;top:861.61px;font-size:8.939px;line-height:8.939px;font-weight:700;font-style:normal;color:#1e1e1e;-webkit-text-stroke:0.45px #1e1e1e;">29%</div>
<div class="t" style="left:422.62px;top:837.41px;font-size:8.939px;line-height:8.939px;font-weight:700;font-style:normal;color:#1e1e1e;-webkit-text-stroke:0.45px #1e1e1e;">21%</div>
<div class="t" style="left:436.09px;top:795.41px;font-size:8.939px;line-height:8.939px;font-weight:700;font-style:normal;color:#1e1e1e;-webkit-text-stroke:0.45px #1e1e1e;">7%</div>
<div class="t" style="left:427.89px;top:777.41px;font-size:8.939px;line-height:8.939px;font-weight:700;font-style:normal;color:#1e1e1e;-webkit-text-stroke:0.45px #1e1e1e;">6%</div>
<div class="t" style="left:453.99px;top:763.51px;font-size:8.939px;line-height:8.939px;font-weight:700;font-style:normal;color:#1e1e1e;-webkit-text-stroke:0.45px #1e1e1e;">1%</div>
<div style="position:absolute;left:147.0px;top:899.6px;width:5px;height:5px;background:#a5d5dc"></div>
<div class="t" style="left:156.65px;top:898.30px;font-size:9.739px;line-height:9.739px;font-weight:400;font-style:normal;color:#5a5a5a;transform:scaleX(0.8781);transform-origin:0 0;-webkit-text-stroke:0.1px #5a5a5a;">N/E</div>
<div style="position:absolute;left:185.5px;top:899.6px;width:5px;height:5px;background:#9b2537"></div>
<div class="t" style="left:194.35px;top:898.30px;font-size:9.739px;line-height:9.739px;font-weight:400;font-style:normal;color:#5a5a5a;transform:scaleX(0.8781);transform-origin:0 0;-webkit-text-stroke:0.1px #5a5a5a;">PRIMARIA COMPLETA</div>
<div style="position:absolute;left:300.1px;top:899.6px;width:5px;height:5px;background:#e07189"></div>
<div class="t" style="left:309.36px;top:898.30px;font-size:9.739px;line-height:9.739px;font-weight:400;font-style:normal;color:#5a5a5a;transform:scaleX(0.8781);transform-origin:0 0;-webkit-text-stroke:0.1px #5a5a5a;">SECUNDARIA COMPLETA</div>
<div style="position:absolute;left:427.9px;top:899.6px;width:5px;height:5px;background:#0d4a60"></div>
<div class="t" style="left:436.49px;top:898.30px;font-size:9.739px;line-height:9.739px;font-weight:400;font-style:normal;color:#5a5a5a;transform:scaleX(0.8781);transform-origin:0 0;-webkit-text-stroke:0.1px #5a5a5a;">UNIVERSIDAD COMPLETA</div>
<div style="position:absolute;left:559.4px;top:899.6px;width:5px;height:5px;background:#ff7300"></div>
<div class="t" style="left:568.35px;top:898.30px;font-size:9.739px;line-height:9.739px;font-weight:400;font-style:normal;color:#5a5a5a;transform:scaleX(0.8781);transform-origin:0 0;-webkit-text-stroke:0.1px #5a5a5a;">PRIMARIA INCOMPLETA</div>
<div style="position:absolute;left:179.9px;top:918.6px;width:5px;height:5px;background:#ffc000"></div>
<div class="t" style="left:188.76px;top:917.30px;font-size:9.739px;line-height:9.739px;font-weight:400;font-style:normal;color:#5a5a5a;transform:scaleX(0.8781);transform-origin:0 0;-webkit-text-stroke:0.1px #5a5a5a;">SEGUNDARIA INCOMPLETA</div>
<div style="position:absolute;left:315.5px;top:918.6px;width:5px;height:5px;background:#70ad47"></div>
<div class="t" style="left:323.89px;top:917.30px;font-size:9.739px;line-height:9.739px;font-weight:400;font-style:normal;color:#5a5a5a;transform:scaleX(0.8781);transform-origin:0 0;-webkit-text-stroke:0.1px #5a5a5a;">UNIVERSIDAD INCOMPLETA</div>
<div style="position:absolute;left:453.2px;top:918.6px;width:5px;height:5px;background:#c8102e"></div>
<div class="t" style="left:461.35px;top:917.30px;font-size:9.739px;line-height:9.739px;font-weight:400;font-style:normal;color:#5a5a5a;transform:scaleX(0.8781);transform-origin:0 0;-webkit-text-stroke:0.1px #5a5a5a;">PREESCOLAR</div>
<div style="position:absolute;left:530.1px;top:918.6px;width:5px;height:5px;background:#666666"></div>
<div class="t" style="left:539.05px;top:917.30px;font-size:9.739px;line-height:9.739px;font-weight:400;font-style:normal;color:#5a5a5a;transform:scaleX(0.8781);transform-origin:0 0;-webkit-text-stroke:0.1px #5a5a5a;">NINGUNA</div>
<svg width="819" height="1024" viewBox="0 0 819 1024"><circle cx="64.7" cy="960.9" r="18.9" fill="#c387c4"/><circle cx="108.8" cy="960.9" r="18.9" fill="#c387c4"/><circle cx="152.9" cy="960.9" r="18.9" fill="#c387c4"/><circle cx="196.5" cy="960.9" r="18.9" fill="#c387c4"/><path d="M62.2,975 V962.6 H58.2 V957.9 H62.2 V954.6 C62.2,950.6 64.6,948.6 68.2,948.6 C69.6,948.6 70.9,948.7 71.3,948.8 V952.9 H68.9 C67.1,952.9 66.7,953.8 66.7,955.1 V957.9 H71.2 L70.6,962.6 H66.7 V975 Z" fill="#fff"/><rect x="97.9" y="950" width="21.8" height="21.8" rx="6" fill="none" stroke="#fff" stroke-width="2.2"/><circle cx="108.8" cy="960.9" r="5.2" fill="none" stroke="#fff" stroke-width="2.2"/><circle cx="115" cy="954.5" r="1.4" fill="#fff"/><path d="M141.8,950.4 H148.6 L164,971.6 H157.2 Z" fill="none" stroke="#fff" stroke-width="1.6" stroke-linejoin="round"/><path d="M163.2,950.2 L154.6,959.8 M141.8,971.8 L150.6,962" stroke="#fff" stroke-width="1.9"/><rect x="185.2" y="953.6" width="22.6" height="15.2" rx="4.5" fill="#fff"/><path d="M193.8,957.4 L200.4,961.2 L193.8,965 Z" fill="#c387c4"/><rect x="597.4" y="943.7" width="38.2" height="44.9" rx="2.4" fill="#8e2a8e"/><path d="M613.4,950.2 C611,950.2 608.8,953 608.6,957.4 C608.5,961 609.2,964 610.5,966.5 L612.9,969.2 C611,971 609,973.5 608.3,976.5 C607.8,979.5 609,982.5 612.5,983 C615.5,983.3 619.5,981.5 624.2,977.9 C624,980.5 624.2,984 625.5,986 C626.5,987.3 628.5,987.3 629.6,985.5 C630.6,983.5 630.8,980 630.4,977.9 C632,976.5 634,975.8 635.6,975.3 L635.6,968.5 C633.5,968.6 632.5,968 631.5,967.6 L629.5,967.8 L627,966.5 C625.5,962.5 623,957.5 620,953.8 C618,951.5 615.5,950.2 613.4,950.2 Z" fill="#f5e7f8"/><g fill="#8e2a8e"><path d="M641.5,934.2 C645,934 649,938.5 651.5,943 C653,946 654.2,949 654,951.5 L648.5,957.5 C644.5,955 640.5,951.5 638,948.8 C636.5,946.8 636.3,942 637,938.8 C637.8,935.8 639.5,934.3 641.5,934.2 Z"/><path d="M636.9,951.5 C639,950.8 644,951.6 648.5,952.8 L653,955 C651.5,958 648.5,960.8 645.2,962 C642,963.2 638.5,963.4 637.1,961.6 C635.6,959.5 635.5,955 636.9,951.5 Z"/><path d="M651.5,950.8 C655.5,948 661,946 665.5,945.5 C668,945.3 668.2,947 666.7,949.5 C664.7,953 661.2,956.6 658.2,957.9 C655.5,958.8 652.8,957.8 651.5,955.5 Z"/><path d="M650.3,956.8 C651.5,956.2 654.8,956.3 656.6,957.4 C657.3,960 657,963.6 655.2,965.7 C653.9,967 652,966.7 651.2,964.6 C650.3,962 649.8,959 650.3,956.8 Z"/></g><g fill="#f5e7f8"><path d="M640.4,942.2 C641.6,941.4 644.6,943.5 647.1,946.5 C649.6,949.5 651.1,951.5 651.3,952.7 C649.1,952.6 645.1,951.5 642.6,949 C640.1,946.5 639.6,943 640.4,942.2 Z"/><path d="M638.7,953.4 C641.1,953.1 645.1,953.8 648.2,954.9 C647.2,957.6 645.2,959.6 642.6,960.6 C640.6,961.3 638.9,960.9 638.4,959.6 C637.9,957.6 637.9,955.1 638.7,953.4 Z"/><path d="M655,954.4 C657.5,952 661.2,949.4 663.8,948.2 C662.8,950.5 660.2,953.6 657.6,955.3 C656.6,955.9 655.5,955.4 655,954.4 Z"/><path d="M652.1,959 C653.1,958.5 654.9,959 655.1,960.6 C655.3,962.6 654.6,964.4 653.6,964.6 C652.6,964.6 651.9,961 652.1,959 Z"/></g><circle cx="640.1" cy="956.9" r="1.5" fill="#8e2a8e"/><circle cx="641.8" cy="943.3" r="0.9" fill="#8e2a8e"/><g fill="none" stroke="#2b2b2b" stroke-width="1.6" stroke-linecap="butt"><path d="M644.4,966.4 V979.6 A7.3,7.3 0 0 0 659,979.6 M659,966.4 V987.7"/><path d="M686.6,957.8 V987.7 M686.6,977 A9.6,10.1 0 1 0 686.6,977.2"/><path d="M695,966.4 V987.7"/><path d="M701.7,987.7 V974 A7.3,7.3 0 0 1 716.3,974 V987.7 M716.3,974 A7.3,7.3 0 0 1 731,974 V987.7"/><path d="M737.6,966.4 V979.6 A7.3,7.3 0 0 0 752.2,979.6 M752.2,966.4 V987.7"/><path d="M761.6,987.7 V966 A8.5,8.5 0 0 1 771,957.5 M761.6,967.2 H768"/></g></svg>
<div class="t" style="left:46.95px;top:985.89px;font-size:14.535px;line-height:14.535px;font-weight:700;font-style:normal;color:#c387c4;transform:scaleX(1.1300);transform-origin:0 0;letter-spacing:1.203px;-webkit-text-stroke:0.9px #c387c4;">www.udimufhn.org</div>
<div class="t" style="left:597.01px;top:993.82px;font-size:7.922px;line-height:7.922px;font-weight:400;font-style:normal;color:#2a2a2a;transform:scaleX(0.9316);transform-origin:0 0;-webkit-text-stroke:0.15px #2a2a2a;">Unidad de Desarrollo Integral de la Mujer y la Familia</div>
</body></html>
